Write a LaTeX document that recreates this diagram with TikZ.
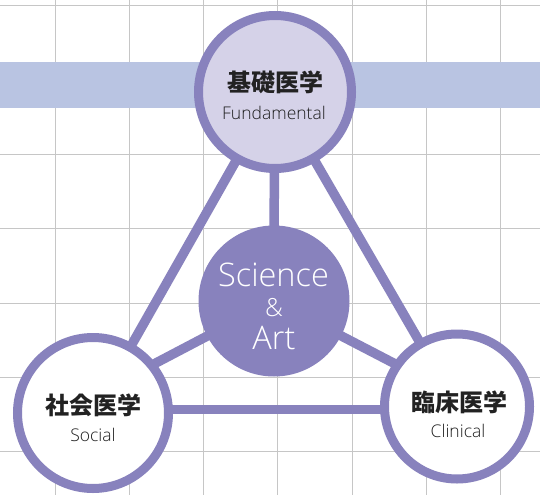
\documentclass[tikz,border=0pt]{standalone}
\usepackage{fontspec}
\setmainfont{Open Sans}[UprightFont=* Light]
\newfontfamily\jp{Noto Sans CJK JP}
\definecolor{ringc}{HTML}{8882BD}
\definecolor{topfill}{HTML}{D5D2E8}
\definecolor{bandc}{HTML}{B9C4E2}
\definecolor{gridc}{HTML}{C6C6C6}
\definecolor{jpc}{HTML}{222222}
\definecolor{enc}{HTML}{1E1E1E}
\tikzset{
  gridline/.style={draw=gridc, line width=1pt},
  link/.style={draw=ringc, line width=9.5pt},
  ringnode/.style={circle, draw=ringc, line width=9pt, inner sep=0pt},
  jplabel/.style={anchor=base, inner sep=0pt, text=jpc, font=\jp\bfseries\fontsize{24}{28}\selectfont},
  enlabel/.style={anchor=base, inner sep=0pt, text=enc, font=\fontsize{17.5}{20}\selectfont},
  biglabel/.style={anchor=base, inner sep=0pt, text=white, font=\fontsize{32.5}{36}\selectfont},
}
\begin{document}
\begin{tikzpicture}[x=1pt,y=-1pt]
\useasboundingbox (0,0) rectangle (540,495);
\fill[white] (0,0) rectangle (540,495);
% grid
\foreach \i in {0,...,6} {
  \draw[gridline] ({55+74.33*\i},0) -- ({55+74.33*\i},495);
  \draw[gridline] (0,{6+74.33*\i}) -- (540,{6+74.33*\i});
}
% band
\fill[bandc] (0,62) rectangle (540,108);
% centres
\coordinate (t) at (275,92);
\coordinate (c) at (274,301);
\coordinate (l) at (93,413);
\coordinate (r) at (457,406.5);
\coordinate (la) at (93,396);
\coordinate (ra) at (457,396);
\coordinate (hl) at (93,409.5);
\coordinate (hr) at (457,409.5);
\coordinate (tv) at (274.5,92);
% connectors
\draw[link] (t) -- (l);
\draw[link] (t) -- (r);
\draw[link] (tv) -- (c);
\draw[link] (c) -- (la);
\draw[link] (c) -- (ra);
\draw[link] (hl) -- (hr);
% circles
\node[ringnode, fill=topfill, minimum size=153pt] (T) at (t) {};
\node[ringnode, fill=white, minimum size=151pt] (L) at (l) {};
\node[ringnode, fill=white, minimum size=145pt] (R) at (r) {};
\node[circle, fill=ringc, inner sep=0pt, minimum size=151pt] (C) at (c) {};
% texts
\node[jplabel] (tj) at (275,91.5) {基礎医学};
\node[enlabel] (te) at (274,119.3) {Fundamental};
\node[jplabel] (lj) at (93,414) {社会医学};
\node[enlabel] (le) at (93,441) {Social};
\node[jplabel] (rj) at (459.5,411) {臨床医学};
\node[enlabel] (re) at (458,437) {Clinical};
\node[biglabel] (cs) at (273.5,286.7) {Science};
\node[anchor=base, inner sep=0pt, text=white, font=\fontsize{25}{28}\selectfont] (ca) at (274,316.7) {\&};
\node[biglabel] (ct) at (274,349.3) {Art};
\end{tikzpicture}
\end{document}
